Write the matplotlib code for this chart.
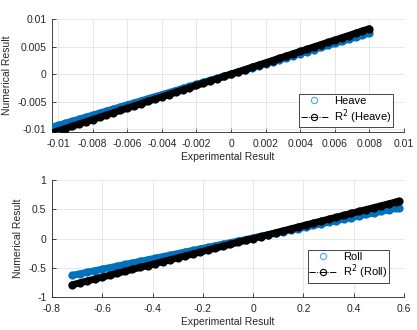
import matplotlib
matplotlib.use('Agg')
import matplotlib.pyplot as plt
from matplotlib.lines import Line2D

plt.rcParams['font.family'] = ['Liberation Sans', 'DejaVu Sans']

BLUE = '#0072BD'
DARK = '#262626'

# heave: experimental vs numerical, and fitted (R^2) line
exp_heave = [-0.0104, -0.0100, -0.0096, -0.0092, -0.0088, -0.0084, -0.0080, -0.0076,
             -0.0072, -0.0068, -0.0064, -0.0060, -0.0056, -0.0052, -0.0048, -0.0044,
             -0.0040, -0.0036, -0.0032, -0.0028, -0.0024, -0.0020, -0.0016, -0.0012,
             -0.0008, -0.0004, 0.0000, 0.0004, 0.0008, 0.0012, 0.0016, 0.0020,
             0.0024, 0.0028, 0.0032, 0.0036, 0.0040, 0.0044, 0.0048, 0.0052,
             0.0056, 0.0060, 0.0064, 0.0068, 0.0072, 0.0076, 0.0080]
num_heave = [-0.00967, -0.00930, -0.00893, -0.00856, -0.00818, -0.00781, -0.00744, -0.00707,
             -0.00670, -0.00632, -0.00595, -0.00558, -0.00521, -0.00484, -0.00446, -0.00409,
             -0.00372, -0.00335, -0.00298, -0.00260, -0.00223, -0.00186, -0.00149, -0.00112,
             -0.00074, -0.00037, 0.00000, 0.00037, 0.00074, 0.00112, 0.00149, 0.00186,
             0.00223, 0.00260, 0.00298, 0.00335, 0.00372, 0.00409, 0.00446, 0.00484,
             0.00521, 0.00558, 0.00595, 0.00632, 0.00670, 0.00707, 0.00744]
fit_heave = [-0.01071, -0.01030, -0.00989, -0.00948, -0.00906, -0.00865, -0.00824, -0.00783,
             -0.00742, -0.00700, -0.00659, -0.00618, -0.00577, -0.00536, -0.00494, -0.00453,
             -0.00412, -0.00371, -0.00330, -0.00288, -0.00247, -0.00206, -0.00165, -0.00124,
             -0.00082, -0.00041, 0.00000, 0.00041, 0.00082, 0.00124, 0.00165, 0.00206,
             0.00247, 0.00288, 0.00330, 0.00371, 0.00412, 0.00453, 0.00494, 0.00536,
             0.00577, 0.00618, 0.00659, 0.00700, 0.00742, 0.00783, 0.00824]

# roll
exp_roll = [-0.72, -0.69, -0.66, -0.63, -0.60, -0.57, -0.54, -0.51, -0.48, -0.45,
            -0.42, -0.39, -0.36, -0.33, -0.30, -0.27, -0.24, -0.21, -0.18, -0.15,
            -0.12, -0.09, -0.06, -0.03, 0.00, 0.03, 0.06, 0.09, 0.12, 0.15,
            0.18, 0.21, 0.24, 0.27, 0.30, 0.33, 0.36, 0.39, 0.42, 0.45,
            0.48, 0.51, 0.54, 0.57, 0.58]
num_roll = [-0.631, -0.604, -0.577, -0.551, -0.524, -0.497, -0.471, -0.444, -0.417, -0.391,
            -0.364, -0.337, -0.310, -0.284, -0.257, -0.230, -0.204, -0.177, -0.150, -0.124,
            -0.097, -0.070, -0.043, -0.017, 0.010, 0.037, 0.063, 0.090, 0.117, 0.144,
            0.170, 0.197, 0.224, 0.250, 0.277, 0.304, 0.330, 0.357, 0.384, 0.411,
            0.437, 0.464, 0.491, 0.517, 0.526]
fit_roll = [-0.792, -0.759, -0.726, -0.693, -0.660, -0.627, -0.594, -0.561, -0.528, -0.495,
            -0.462, -0.429, -0.396, -0.363, -0.330, -0.297, -0.264, -0.231, -0.198, -0.165,
            -0.132, -0.099, -0.066, -0.033, 0.000, 0.033, 0.066, 0.099, 0.132, 0.165,
            0.198, 0.231, 0.264, 0.297, 0.330, 0.363, 0.396, 0.429, 0.462, 0.495,
            0.528, 0.561, 0.594, 0.627, 0.638]

heave_xticks = [-0.01, -0.008, -0.006, -0.004, -0.002, 0, 0.002, 0.004, 0.006, 0.008, 0.01]
heave_xlabels = ['-0.01', '-0.008', '-0.006', '-0.004', '-0.002', '0',
                 '0.002', '0.004', '0.006', '0.008', '0.01']
heave_yticks = [-0.01, -0.005, 0, 0.005, 0.01]
heave_ylabels = ['-0.01', '-0.005', '0', '0.005', '0.01']

roll_xticks = [-0.8, -0.6, -0.4, -0.2, 0, 0.2, 0.4, 0.6]
roll_xlabels = ['-0.8', '-0.6', '-0.4', '-0.2', '0', '0.2', '0.4', '0.6']
roll_yticks = [-1, -0.5, 0, 0.5, 1]
roll_ylabels = ['-1', '-0.5', '0', '0.5', '1']


def style_axes(ax, xt, xl, yt, yl, xlim, ylim):
	ax.set_xlim(xlim)
	ax.set_ylim(ylim)
	ax.set_xticks(xt)
	ax.set_xticklabels(xl)
	ax.set_yticks(yt)
	ax.set_yticklabels(yl)
	ax.grid(True, color='#e3e3e3', linewidth=0.6)
	ax.set_axisbelow(True)
	for s in ['top', 'right']:
		ax.spines[s].set_visible(False)
	for s in ['bottom', 'left']:
		ax.spines[s].set_color(DARK)
		ax.spines[s].set_linewidth(0.6)
	ax.tick_params(direction='in', length=3, width=0.6, colors=DARK, labelsize=7.5)
	ax.tick_params(axis='x', pad=5)
	ax.tick_params(axis='y', pad=4)
	ax.set_xlabel('Experimental Result', fontsize=7.5, color=DARK, labelpad=2)
	ax.set_ylabel('Numerical Result', fontsize=7.5, color=DARK, labelpad=4)


def draw_panel(ax, x, num, fit, name, anchor):
	# the samples are so dense that they merge into a solid band
	ax.plot(x, num, '-', color=BLUE, lw=5, solid_capstyle='round', zorder=3)
	ax.plot(x, num, 'o', color=BLUE, mfc='none', ms=4.6, mew=1.3, zorder=3)
	ax.plot(x, fit, '-', color='black', lw=5, solid_capstyle='round', zorder=4)
	ax.plot(x, fit, 'o', color='black', mfc='none', ms=4.6, mew=1.3, zorder=4)
	handles = [
		Line2D([], [], ls='none', marker='o', color='#4da6e0', mfc='none', ms=4.5, mew=0.8),
		Line2D([], [], ls='-.', marker='o', color='black', mfc='none', ms=4.5, mew=0.8, lw=0.7),
	]
	leg = ax.legend(handles, [name, 'R$^2$ (' + name + ')'], loc='lower right',
					bbox_to_anchor=anchor, borderaxespad=0, fontsize=8,
					fancybox=False, framealpha=1, edgecolor=DARK,
					handlelength=2.4, handletextpad=0.6, borderpad=0.15,
					labelspacing=0.1)
	leg.get_frame().set_linewidth(0.6)
	for t in leg.get_texts():
		t.set_color('black')


fig = plt.figure(figsize=(4.17, 3.30), dpi=100)

ax1 = fig.add_axes([0.1247, 0.6, 0.844, 0.3424])
draw_panel(ax1, exp_heave, num_heave, fit_heave, 'Heave', (0.97, 0.04))
style_axes(ax1, heave_xticks, heave_xlabels, heave_yticks, heave_ylabels,
		   (-0.01035, 0.01), (-0.0105, 0.01))

ax2 = fig.add_axes([0.1247, 0.1, 0.844, 0.3545])
draw_panel(ax2, exp_roll, num_roll, fit_roll, 'Roll', (0.957, 0.12))
style_axes(ax2, roll_xticks, roll_xlabels, roll_yticks, roll_ylabels,
		   (-0.8, 0.6), (-1, 1))

plt.savefig('out.png', dpi=100)
plt.close(fig)
